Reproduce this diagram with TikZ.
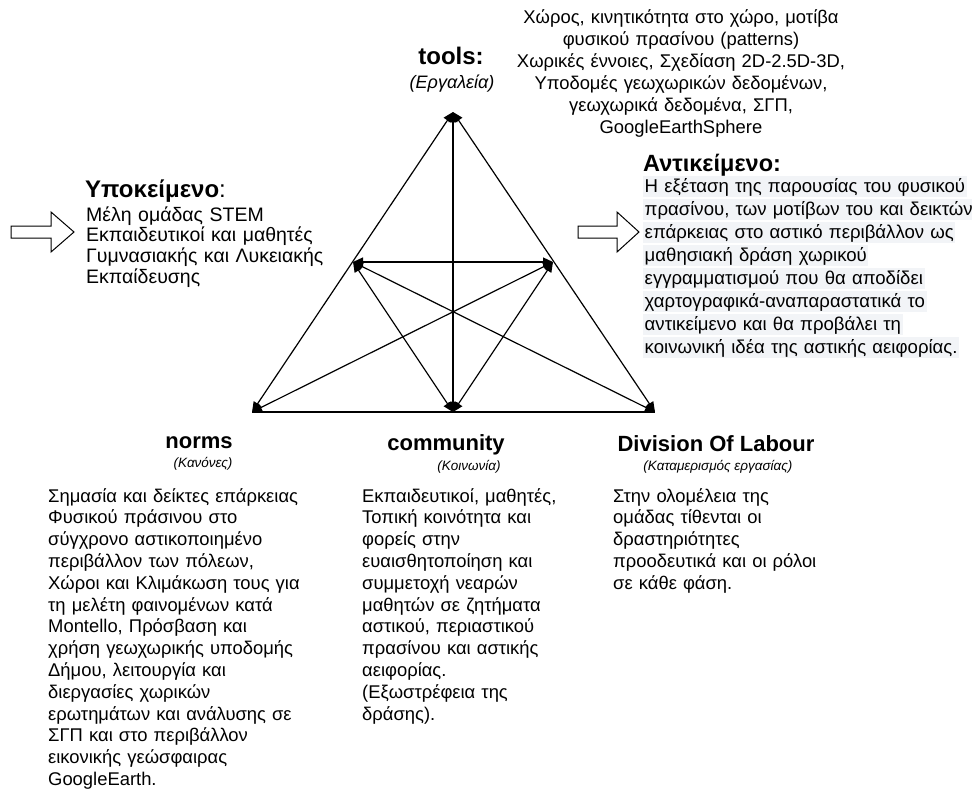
\documentclass[tikz,border=0pt]{standalone}
\usepackage{fontspec}
\setmainfont{Liberation Sans}
\usetikzlibrary{arrows.meta}
\definecolor{hl}{HTML}{F2F4F7}
\newcommand\hlline[1]{{\setlength{\fboxsep}{1.5pt}\colorbox{hl}{#1}}}
\begin{document}
\begin{tikzpicture}[x=1pt,y=-1pt,
  edge/.style={line width=1.2pt, {Triangle[length=10pt,width=9pt]}-{Triangle[length=10pt,width=9pt]}},
  plainedge/.style={line width=1.2pt},
  head/.style={font=\fontsize{22}{24}\selectfont\bfseries, inner sep=0pt, anchor=base},
  sub/.style={font=\fontsize{13.5}{15}\selectfont\itshape, inner sep=0pt, anchor=base},
  body/.style={font=\fontsize{18.4}{21.8}\selectfont, inner sep=0pt, anchor=base west, align=left, text width=420pt},
  hollow/.style={draw, line width=1pt, fill=white, line join=miter}]

\useasboundingbox[fill=white] (0,0) rectangle (972,798);

% corners and mid points of the activity triangle
\coordinate (T)  at (453,112);
\coordinate (BL) at (252,412);
\coordinate (BR) at (655,412);
\coordinate (BM) at (453,412);
\coordinate (ML) at (353,262);
\coordinate (MR) at (553,262);

\draw[plainedge] (BL) -- (BR);
\draw[edge] (BL) -- (T);
\draw[edge] (BR) -- (T);
\draw[edge] (T) -- (BM);
\draw[edge] (ML) -- (MR);
\draw[edge] (ML) -- (BR);
\draw[edge] (MR) -- (BL);
\draw[edge] (ML) -- (BM);
\draw[edge] (MR) -- (BM);

% hollow block arrows
\draw[hollow] (11,226) -- (51,226) -- (51,212) -- (74,232) -- (51,252) -- (51,238) -- (11,238) -- cycle;
\draw[hollow] (578,226) -- (617,226) -- (617,212) -- (639,232) -- (617,252) -- (617,238) -- (578,238) -- cycle;

% tools
\node[head, font=\fontsize{24}{26}\selectfont\bfseries] (tools) at (451,64) {tools:};
\node[sub, font=\fontsize{18}{20}\selectfont\itshape] (toolsSub) at (452,88) {(Εργαλεία)};
\node[body, font=\fontsize{18.4}{22}\selectfont, anchor=base, align=center, text width=380pt] (toolsTxt) at (681,23)
  {Χώρος, κινητικότητα στο χώρο, μοτίβα\\
   φυσικού πρασίνου (patterns)\\
   Χωρικές έννοιες, Σχεδίαση 2D-2.5D-3D,\\
   Υποδομές γεωχωρικών δεδομένων,\\
   γεωχωρικά δεδομένα, ΣΓΠ,\\
   GoogleEarthSphere};

% subject
\node[body, font=\fontsize{24}{26}\selectfont] (subjHead) at (85,197) {\textbf{Υποκείμενο}:};
\node[body, font=\fontsize{19.5}{20.7}\selectfont] (subjTxt) at (86,221)
  {Μέλη ομάδας STEM\\
   Εκπαιδευτικοί και μαθητές\\
   Γυμνασιακής και Λυκειακής\\
   Εκπαίδευσης};

% object
\node[body, font=\fontsize{23.5}{26}\selectfont\bfseries] (objHead) at (643,171) {Αντικείμενο:};
\node[body, font=\fontsize{18.6}{23}\selectfont] (objTxt) at (643,192)
  {\hlline{Η εξέταση της παρουσίας του φυσικού}\\
   \hlline{πρασίνου, των μοτίβων του και δεικτών}\\
   \hlline{επάρκειας στο αστικό περιβάλλον ως}\\
   \hlline{μαθησιακή δράση χωρικού}\\
   \hlline{εγγραμματισμού που θα αποδίδει}\\
   \hlline{χαρτογραφικά-αναπαραστατικά το}\\
   \hlline{αντικείμενο και θα προβάλει τη}\\
   \hlline{κοινωνική ιδέα της αστικής αειφορίας.}};

% norms
\node[head] (norms) at (199,448) {norms};
\node[sub] (normsSub) at (203,467) {(Κανόνες)};
\node[body] (normsTxt) at (48,502)
  {Σημασία και δείκτες επάρκειας\\
   Φυσικού πράσινου στο\\
   σύγχρονο αστικοποιημένο\\
   περιβάλλον των πόλεων,\\
   Χώροι και Κλιμάκωση τους για\\
   τη μελέτη φαινομένων κατά\\
   Montello, Πρόσβαση και\\
   χρήση γεωχωρικής υποδομής\\
   Δήμου, λειτουργία και\\
   διεργασίες χωρικών\\
   ερωτημάτων και ανάλυσης σε\\
   ΣΓΠ και στο περιβάλλον\\
   εικονικής γεώσφαιρας\\
   GoogleEarth.};

% community
\node[head] (comm) at (446,450) {community};
\node[sub] (commSub) at (469,470) {(Κοινωνία)};
\node[body] (commTxt) at (362,502)
  {Εκπαιδευτικοί, μαθητές,\\
   Τοπική κοινότητα και\\
   φορείς στην\\
   ευαισθητοποίηση και\\
   συμμετοχή νεαρών\\
   μαθητών σε ζητήματα\\
   αστικού, περιαστικού\\
   πρασίνου και αστικής\\
   αειφορίας.\\
   (Εξωστρέφεια της\\
   δράσης).};

% division of labour
\node[head] (div) at (716,451) {Division Of Labour};
\node[sub] (divSub) at (718,470) {(Καταμερισμός εργασίας)};
\node[body] (divTxt) at (613,502)
  {Στην ολομέλεια της\\
   ομάδας τίθενται οι\\
   δραστηριότητες\\
   προοδευτικά και οι ρόλοι\\
   σε κάθε φάση.};
\end{tikzpicture}
\end{document}
